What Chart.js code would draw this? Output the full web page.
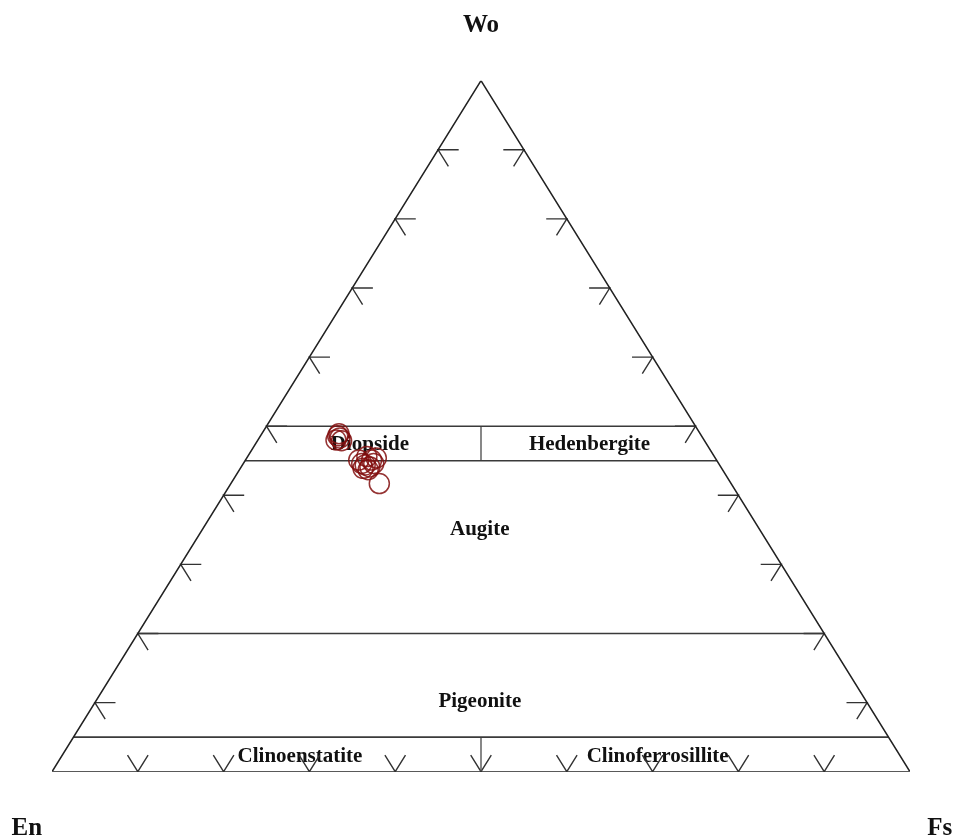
<!DOCTYPE html>
<html>
<head>
<meta charset="utf-8">
<script src="https://cdn.jsdelivr.net/npm/chart.js@4"></script>
<style>
html,body{margin:0;padding:0;background:#fff;}
#wrap{width:953px;height:836px;}
</style>
</head>
<body>
<div id="wrap"><canvas id="c" width="953" height="836"></canvas></div>
<script>
// Sample compositions (percent)
const woValues = [48.6, 48.3, 47.9, 48.0, 48.9, 45.6, 45.1, 44.6, 44.4, 44.1, 44.6, 45.1, 45.4, 43.7, 43.9, 41.7];
const enValues = [42.4, 42.3, 42.3, 42.9, 42.1, 40.5, 40.2, 41.6, 41.3, 40.9, 40.2, 41.7, 39.5, 41.3, 41.8, 41.0];
const fsValues = [9.0, 9.4, 9.8, 9.1, 9.0, 13.9, 14.7, 13.8, 14.3, 15.0, 15.2, 13.2, 15.1, 15.0, 14.3, 17.3];

// Classification boundaries (Wo %)
const woBoundaries = [50, 45, 20, 5];
// Tick values along each side (percent)
const tickValues = [10, 20, 30, 40, 50, 60, 70, 80, 90];
// Field names
const fieldNames = ["Diopside", "Hedenbergite", "Augite", "Pigeonite", "Clinoenstatite", "Clinoferrosillite"];
// Apex names
const apexNames = ["Wo", "En", "Fs"];

// ternary (Wo, Fs) -> plot coordinates
function tern(wo, fs) { return { x: fs + wo / 2, y: wo }; }

const datasets = [];
const lineColor = '#333';
function seg(pts, w, col) {
  datasets.push({
    type: 'line', data: pts, showLine: true, borderColor: col || lineColor,
    borderWidth: w || 1.4, pointRadius: 0, fill: false, tension: 0, order: 2
  });
}

// triangle outline
seg([tern(0, 0), tern(1, 0), tern(0, 1), tern(0, 0)], 1.6, '#222');
// horizontal boundaries
woBoundaries.forEach(b => {
  const w = b / 100;
  seg([tern(w, 0), tern(w, 1 - w)], 1.6, '#3a3a3a');
});
// En = Fs dividers
seg([tern(0.50, 0.25), tern(0.45, 0.275)], 1.4, '#555');
seg([tern(0.05, 0.475), tern(0, 0.5)], 1.4, '#555');

// ticks
const tl = 0.024;
tickValues.forEach(v => {
  const t = v / 100;
  // left side (En-Wo), Fs=0
  seg([tern(t, tl), tern(t, 0), tern(t - tl, tl)], 1.4, '#333');
  // right side (Wo-Fs), En=0
  seg([tern(t, 1 - t - tl), tern(t, 1 - t), tern(t - tl, 1 - t)], 1.4, '#333');
  // bottom (En-Fs), Wo=0
  seg([tern(tl, t - tl), tern(0, t), tern(tl, t)], 1.4, '#333');
});

// samples
datasets.push({
  type: 'scatter',
  data: woValues.map((w, i) => tern(w / 100, fsValues[i] / 100)),
  pointRadius: 10, pointHoverRadius: 10,
  pointBackgroundColor: 'rgba(0,0,0,0)',
  pointBorderColor: 'rgba(130,15,15,0.85)', pointBorderWidth: 1.5,
  showLine: false, order: 0
});

// label positions in ternary (Wo, Fs) fractions
const fieldLabelPos = [[0.473, 0.134], [0.473, 0.39], [0.350, 0.3235], [0.101, 0.4481], [0.0226, 0.2777], [0.0226, 0.6946]];
const apexLabelPos = [[1.071, -0.0355], [-0.0916, 0.0165], [-0.0916, 1.0805]];

const labelPlugin = {
  id: 'labels',
  beforeDatasetsDraw(chart) {
    const ctx = chart.ctx, xs = chart.scales.x, ys = chart.scales.y;
    ctx.save();
    ctx.fillStyle = '#111';
    ctx.textAlign = 'center';
    ctx.textBaseline = 'middle';
    ctx.font = 'bold 21px "Liberation Serif", "Times New Roman", serif';
    fieldNames.forEach((n, i) => {
      const p = tern(fieldLabelPos[i][0], fieldLabelPos[i][1]);
      ctx.fillText(n, xs.getPixelForValue(p.x), ys.getPixelForValue(p.y));
    });
    ctx.font = 'bold 25px "Liberation Serif", "Times New Roman", serif';
    ctx.textBaseline = 'alphabetic';
    apexNames.forEach((n, i) => {
      const p = tern(apexLabelPos[i][0], apexLabelPos[i][1]);
      ctx.fillText(n, xs.getPixelForValue(p.x), ys.getPixelForValue(p.y));
    });
    ctx.restore();
  }
};

new Chart(document.getElementById('c'), {
  type: 'scatter',
  data: { datasets },
  options: {
    responsive: false, animation: false,
    layout: { padding: { left: 52, right: 43, top: 80.7, bottom: 64.3 } },
    plugins: { legend: { display: false }, tooltip: { enabled: false } },
    scales: {
      x: { type: 'linear', min: 0, max: 1, display: false },
      y: { type: 'linear', min: 0, max: 1, display: false }
    }
  },
  plugins: [labelPlugin]
});
</script>
</body>
</html>
